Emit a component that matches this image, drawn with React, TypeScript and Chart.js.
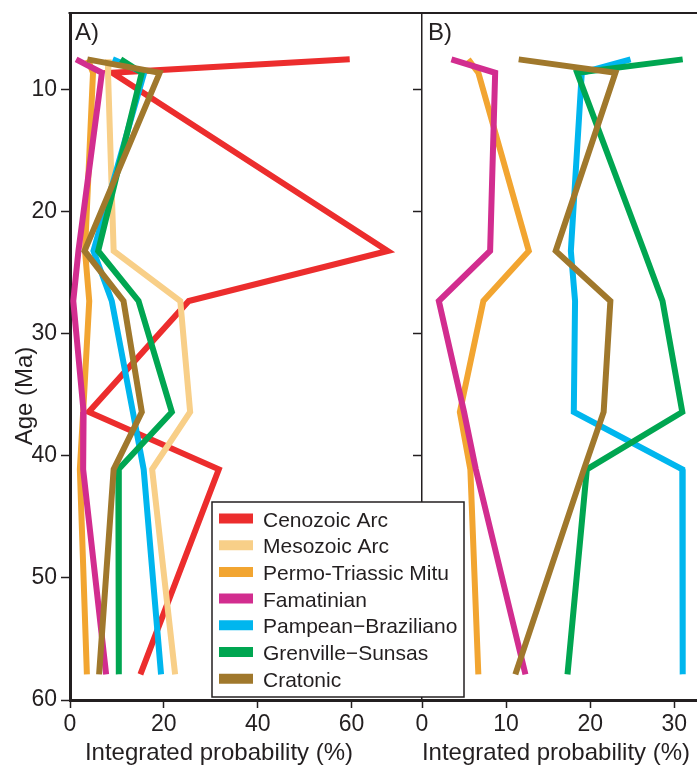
import { useEffect, useRef } from "react";
import { Chart, registerables } from "chart.js";

Chart.register(...registerables);

const FONT = '"Liberation Sans", Arial, Helvetica, sans-serif';
const INK = "#231f20";

// Ages (Ma) at which every curve is sampled
const ages = [7.5, 8.6, 23.2, 27.3, 36.4, 41.1, 57.9];

const sourceNames = [
  "Cenozoic Arc",
  "Mesozoic Arc",
  "Permo-Triassic Mitu",
  "Famatinian",
  "Pampean\u2212Braziliano",
  "Grenville\u2212Sunsas",
  "Cratonic",
];
const sourceColors = ["#ec2d2d", "#f8cf88", "#f2a531", "#d22d8f", "#00b6ee", "#00a651", "#a0782c"];

// Panel A: integrated probability (%)
const cenozoicArcA = [59.6, 9.0, 67.7, 25.3, 4.0, 31.7, 15.0];
const mesozoicArcA = [8.3, 8.1, 9.3, 23.5, 25.6, 17.5, 22.4];
const permoTriassicA = [3.8, 4.9, 3.2, 4.1, 2.8, 2.1, 3.6];
const famatinianA = [1.3, 6.8, 1.8, 0.7, 2.9, 2.8, 7.7];
const pampeanA = [9.1, 15.8, 5.0, 8.9, 13.4, 15.7, 19.4];
const grenvilleA = [10.8, 15.3, 6.0, 14.6, 21.7, 10.3, 10.4];
const cratonicA = [3.7, 19.1, 3.1, 11.4, 15.3, 9.3, 6.2];

// Panel B: integrated probability (%)
const permoTriassicB = [5.5, 6.7, 12.7, 7.3, 4.5, 5.75, 6.7];
const famatinianB = [3.5, 8.7, 8.1, 2.0, 5.0, 6.4, 12.3];
const pampeanB = [24.8, 19.0, 17.7, 18.2, 18.05, 30.95, 31.0];
const grenvilleB = [31.0, 18.45, 26.4, 28.6, 30.95, 19.6, 17.3];
const cratonicB = [11.5, 23.0, 15.9, 22.4, 21.6, 19.25, 11.1];

const ageTicks = [10, 20, 30, 40, 50, 60];
const probTicksA = [0, 20, 40, 60];
const probTicksB = [0, 10, 20, 30];

const seriesA = [cenozoicArcA, mesozoicArcA, permoTriassicA, famatinianA, pampeanA, grenvilleA, cratonicA];
const seriesB: [number, number[]][] = [
  [2, permoTriassicB],
  [3, famatinianB],
  [4, pampeanB],
  [5, grenvilleB],
  [6, cratonicB],
];

function makeDataset(sourceIndex: number, values: number[]) {
  const color = sourceColors[sourceIndex];
  return {
    label: sourceNames[sourceIndex],
    data: values.map((v, i) => ({ x: v, y: ages[i] })),
    borderColor: color,
    backgroundColor: color,
    borderWidth: 6,
    showLine: true,
    pointRadius: 0,
    pointHoverRadius: 0,
    tension: 0,
    borderJoinStyle: "miter",
    borderCapStyle: "butt",
    // later sources are painted over earlier ones
    order: sourceNames.length - sourceIndex,
  };
}

function zeroPadding(s: any) {
  s.paddingTop = 0;
  s.paddingBottom = 0;
  s.paddingLeft = 0;
  s.paddingRight = 0;
}

function probAxis(max: number, ticks: number[]) {
  return {
    type: "linear",
    position: "bottom",
    min: 0,
    max,
    afterBuildTicks: (s: any) => {
      s.ticks = ticks.map((v) => ({ value: v }));
    },
    afterFit: (s: any) => {
      s.height = 65;
      zeroPadding(s);
    },
    grid: {
      display: true,
      drawOnChartArea: false,
      drawTicks: true,
      tickLength: 8,
      tickWidth: 1.5,
      tickColor: INK,
      color: INK,
    },
    border: { display: true, color: INK, width: 3 },
    ticks: { color: INK, font: { family: FONT, size: 23 }, padding: 3, maxRotation: 0, autoSkip: false },
  };
}

function ageAxis(width: number, showLabels: boolean, borderWidth: number) {
  return {
    type: "linear",
    position: "left",
    reverse: true,
    min: 3.7,
    max: 60,
    afterBuildTicks: (s: any) => {
      s.ticks = ageTicks.map((v) => ({ value: v }));
    },
    afterFit: (s: any) => {
      s.width = width;
      zeroPadding(s);
    },
    grid: {
      display: true,
      drawOnChartArea: false,
      drawTicks: true,
      tickLength: 9,
      tickWidth: 1.5,
      tickColor: INK,
      color: INK,
    },
    border: { display: true, color: INK, width: borderWidth },
    ticks: { display: showLabels, color: INK, font: { family: FONT, size: 23 }, padding: 4, autoSkip: false },
  };
}

function drawTopBorder(chart: any) {
  const { ctx, chartArea } = chart;
  ctx.save();
  ctx.strokeStyle = INK;
  ctx.lineWidth = 2;
  ctx.beginPath();
  ctx.moveTo(chartArea.left - 1.5, chartArea.top);
  ctx.lineTo(chartArea.right, chartArea.top);
  ctx.stroke();
  ctx.restore();
}

const panelADecor = {
  id: "panelADecor",
  afterDraw(chart: any) {
    const ctx = chart.ctx;
    drawTopBorder(chart);
    ctx.save();
    ctx.fillStyle = INK;
    ctx.font = `24px ${FONT}`;
    ctx.textBaseline = "alphabetic";
    ctx.textAlign = "left";
    ctx.fillText("A)", 75, 40);
    ctx.textAlign = "center";
    ctx.fillText("Integrated probability (%)", 219, 760);
    ctx.save();
    ctx.translate(32, 396);
    ctx.rotate(-Math.PI / 2);
    ctx.fillText("Age (Ma)", 0, 0);
    ctx.restore();

    // legend
    const bx = 212, by = 502, bw = 252, bh = 195;
    ctx.fillStyle = "#ffffff";
    ctx.fillRect(bx, by, bw, bh);
    ctx.strokeStyle = INK;
    ctx.lineWidth = 1.5;
    ctx.strokeRect(bx, by, bw, bh);
    ctx.font = `21px ${FONT}`;
    ctx.textAlign = "left";
    sourceNames.forEach((name, i) => {
      const cy = 518.5 + i * 26.7;
      ctx.strokeStyle = sourceColors[i];
      ctx.lineWidth = 10;
      ctx.beginPath();
      ctx.moveTo(219, cy);
      ctx.lineTo(253, cy);
      ctx.stroke();
      ctx.fillStyle = INK;
      ctx.fillText(name, 263, cy + 8);
    });
    ctx.restore();
  },
};

const panelBDecor = {
  id: "panelBDecor",
  afterDraw(chart: any) {
    const ctx = chart.ctx;
    drawTopBorder(chart);
    ctx.save();
    ctx.fillStyle = INK;
    ctx.font = `24px ${FONT}`;
    ctx.textBaseline = "alphabetic";
    ctx.textAlign = "left";
    ctx.fillText("B)", 28, 40);
    ctx.textAlign = "center";
    ctx.fillText("Integrated probability (%)", 156, 760);
    ctx.restore();
  },
};

function baseOptions(padRight: number, xAxis: any, yAxis: any) {
  return {
    responsive: false,
    animation: false,
    devicePixelRatio: 1,
    layout: { padding: { top: 13, right: padRight, bottom: 0, left: 0 } },
    plugins: { legend: { display: false }, tooltip: { enabled: false } },
    scales: { x: xAxis, y: yAxis },
  };
}

export default function App() {
  const refA = useRef<HTMLCanvasElement>(null);
  const refB = useRef<HTMLCanvasElement>(null);

  useEffect(() => {
    const chartB = new Chart(refB.current as HTMLCanvasElement, {
      type: "scatter",
      data: { datasets: seriesB.map(([idx, vals]) => makeDataset(idx, vals)) as any },
      options: baseOptions(0, probAxis(32.7, probTicksB), ageAxis(22, false, 1.5)) as any,
      plugins: [panelBDecor],
    });
    const chartA = new Chart(refA.current as HTMLCanvasElement, {
      type: "scatter",
      data: { datasets: seriesA.map((vals, i) => makeDataset(i, vals)) as any },
      options: baseOptions(48, probAxis(75, probTicksA), ageAxis(70, true, 3)) as any,
      plugins: [panelADecor],
    });
    return () => {
      chartA.destroy();
      chartB.destroy();
    };
  }, []);

  return (
    <div
      style={{
        position: "fixed",
        left: 0,
        top: 0,
        width: 697,
        height: 765,
        overflow: "hidden",
        background: "#ffffff",
      }}
    >
      <canvas ref={refB} width={297} height={765} style={{ position: "absolute", left: 400, top: 0 }} />
      <canvas ref={refA} width={470} height={765} style={{ position: "absolute", left: 0, top: 0, zIndex: 2 }} />
    </div>
  );
}
